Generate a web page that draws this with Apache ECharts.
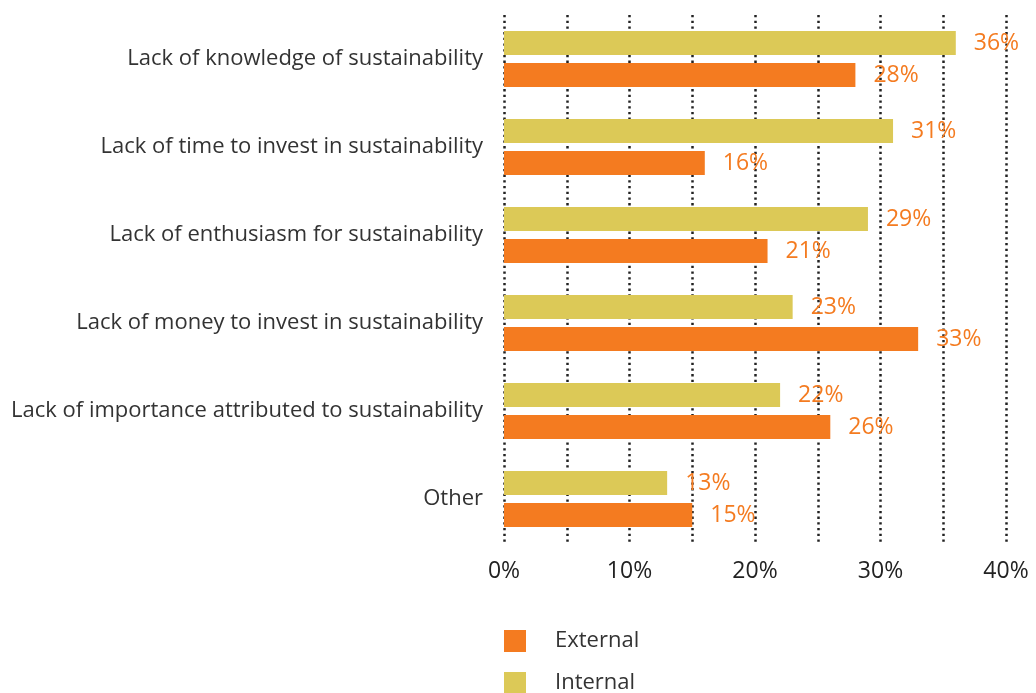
<!DOCTYPE html>
<html>
<head>
<meta charset="utf-8">
<script src="https://cdn.jsdelivr.net/npm/echarts@6/dist/echarts.min.js"></script>
<style>
  html, body { margin: 0; padding: 0; background: #fff; }
  #chart { width: 1036px; height: 693px; }
</style>
</head>
<body>
<div id="chart"></div>
<script>
// categories, top to bottom
const categories = [
  "Lack of knowledge of sustainability",
  "Lack of time to invest in sustainability",
  "Lack of enthusiasm for sustainability",
  "Lack of money to invest in sustainability",
  "Lack of importance attributed to sustainability",
  "Other"
];
const internalValues = [36, 31, 29, 23, 22, 13];
const externalValues = [28, 16, 21, 33, 26, 15];

const fontFamily = "'Open Sans', 'DejaVu Sans', sans-serif";
const labelStyle = {
  show: true,
  position: "right",
  distance: 18,
  color: "#f47b20",
  fontSize: 23,
  fontFamily: fontFamily,
  formatter: "{c}%"
};

// two legends so the second item can run off the bottom like the original
const legendBase = {
  orient: "vertical",
  left: 504,
  padding: 0,
  icon: "rect",
  itemWidth: 22,
  itemHeight: 22,
  textStyle: { fontSize: 22, color: "#333", fontFamily: fontFamily, padding: [0, 0, 0, 24] }
};

const myChart = echarts.init(document.getElementById("chart"));
myChart.setOption({
  animation: false,
  grid: { left: 504, right: 30, top: 15, bottom: 150 },
  legend: [
    Object.assign({}, legendBase, { data: ["External"], top: 630 }),
    Object.assign({}, legendBase, { data: ["Internal"], top: 672 })
  ],
  xAxis: {
    type: "value",
    min: 0,
    max: 40,
    interval: 5,
    axisLine: { show: false },
    axisTick: { show: false },
    axisLabel: {
      margin: 17,
      fontSize: 23,
      color: "#222",
      fontFamily: fontFamily,
      formatter: (v) => (v % 10 === 0 ? v + "%" : "")
    },
    splitLine: {
      show: true,
      lineStyle: { color: "#222", width: 2.5, type: [2.3, 3.4] }
    }
  },
  yAxis: {
    type: "category",
    inverse: true,
    data: categories,
    axisLine: { show: false },
    axisTick: { show: false },
    axisLabel: { margin: 21, fontSize: 22, color: "#333", fontFamily: fontFamily, padding: [0, 0, 5, 0] }
  },
  series: [
    {
      name: "Internal",
      type: "bar",
      data: internalValues,
      barWidth: 24,
      barGap: "33%",
      itemStyle: { color: "#dcc957" },
      label: labelStyle
    },
    {
      name: "External",
      type: "bar",
      data: externalValues,
      barWidth: 24,
      barGap: "33%",
      itemStyle: { color: "#f47b20" },
      label: labelStyle
    }
  ]
});
</script>
</body>
</html>
